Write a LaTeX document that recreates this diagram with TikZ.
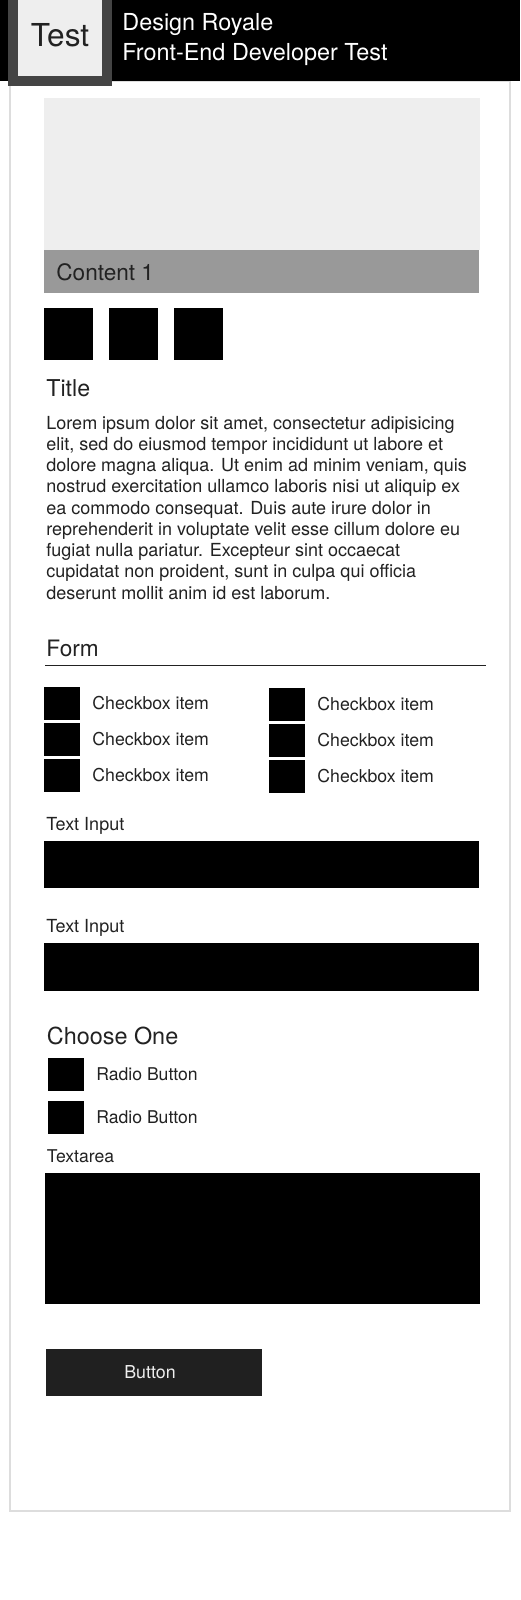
\documentclass[tikz,border=0pt]{standalone}
\usepackage{fontspec}
\setmainfont{TeX Gyre Heros}
\definecolor{ink}{HTML}{222222}
\definecolor{logoedge}{HTML}{444444}
\definecolor{pale}{HTML}{EEEEEE}
\definecolor{barcol}{HTML}{999999}
\definecolor{framecol}{HTML}{DDDDDD}
\definecolor{btncol}{HTML}{202020}
\newcommand\pxsize[1]{\fontsize{#1}{#1}\selectfont}
\tikzset{
  lbl/.style={anchor=base west, inner sep=0pt, text=ink},
}
\begin{document}
\begin{tikzpicture}[x=0.5pt, y=-0.5pt]
    \useasboundingbox[fill=white] (0,0) rectangle (520,1600);

    % Rahmen der Seite
    \draw[framecol, line width=0.6pt] (10,81) rectangle (510,1511);

    % Kopfzeile
    \fill[black] (0,0) rectangle (520,81);
    \fill[logoedge] (8,0) rectangle (112,86);
    \fill[pale] (18,0) rectangle (102,76);
    \node[anchor=base, inner sep=0pt, text=ink] (logo) at (60,47) {\pxsize{15.8}Test};
    \node[lbl, text=white] (brand) at (122,30.5) {\pxsize{11.7}Design Royale};
    \node[lbl, text=white] (subtitle) at (122,60.5) {\pxsize{11.7}Front-End Developer Test};

    % Bild und Leiste
    \fill[pale] (44,98) rectangle (480,250);
    \fill[barcol] (44,250) rectangle (479,293);
    \node[lbl] (content) at (56,280) {\pxsize{11.3}Content 1};
    \foreach \x in {44,109,174}
    \fill (\x,308) rectangle ++(49,52);

    % Titel und Text
    \node[lbl] (title) at (46,396) {\pxsize{11.6}Title};
    \foreach \t [count=\i] in {
      {Lorem ipsum dolor sit amet, consectetur adipisicing},
      {elit, sed do eiusmod tempor incididunt ut labore et},
      {dolore magna aliqua. Ut enim ad minim veniam, quis},
      {nostrud exercitation ullamco laboris nisi ut aliquip ex},
      {ea commodo consequat. Duis aute irure dolor in},
      {reprehenderit in voluptate velit esse cillum dolore eu},
      {fugiat nulla pariatur. Excepteur sint occaecat},
      {cupidatat non proident, sunt in culpa qui officia},
      {deserunt mollit anim id est laborum.}}
    \node[lbl] (line\i) at (46,{429+21.25*(\i-1)}) {\pxsize{9}\t};

    % Formular
    \node[lbl] (form) at (46,656) {\pxsize{11.3}Form};
    \draw[ink, line width=0.5pt] (45,665) -- (486,665);
    \foreach \i in {0,1,2} {
      \fill (44,687+36*\i) rectangle ++(36,33);
      \node[lbl] (cbl\i) at (92,709+36*\i) {\pxsize{8.85}Checkbox item};
      \fill (269,688+36*\i) rectangle ++(36,33);
      \node[lbl] (cbr\i) at (317,710+36*\i) {\pxsize{8.85}Checkbox item};
    }

    % Eingabefelder
    \node[lbl] (inlabel1) at (46,830) {\pxsize{9}Text Input};
    \fill (44,841) rectangle (479,888);
    \node[lbl] (inlabel2) at (46,932) {\pxsize{9}Text Input};
    \fill (44,943) rectangle (479,991);

    % Auswahl
    \node[lbl] (choose) at (46.5,1044) {\pxsize{11.7}Choose One};
    \fill (48,1058) rectangle ++(36,33);
    \node[lbl] (radio1) at (96,1080) {\pxsize{8.8}Radio Button};
    \fill (48,1101) rectangle ++(36,33);
    \node[lbl] (radio2) at (96,1123) {\pxsize{8.8}Radio Button};

    % Textfeld und Knopf
    \node[lbl] (arealabel) at (46.5,1162) {\pxsize{8.8}Textarea};
    \fill (45,1173) rectangle (480,1304);
    \fill[btncol] (46,1349) rectangle (262,1396);
    \node[anchor=base, inner sep=0pt, text=pale] (button) at (150,1378) {\pxsize{8.9}Button};
  \end{tikzpicture}
\end{document}
